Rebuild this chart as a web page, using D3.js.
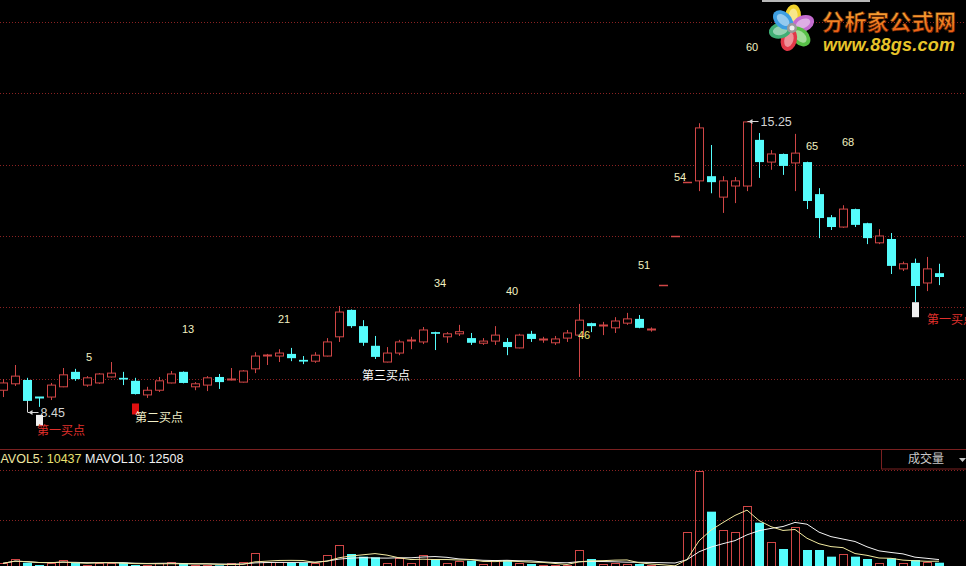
<!DOCTYPE html>
<html><head><meta charset="utf-8">
<script src="https://cdn.jsdelivr.net/npm/d3@7"></script>
<style>html,body{margin:0;padding:0;background:#000;overflow:hidden}</style>
</head><body><svg id="c" width="966" height="566"></svg>
<script>
// ---------- data ----------
const open = [8.96,9.11,9.20,8.79,8.80,9.04,9.39,9.08,9.13,9.27, 9.25,9.18,8.85,8.96,9.13,9.39,9.04,9.08,9.27,9.20,
  9.15,9.46,9.77,9.76,9.81,9.67,9.64,9.76,10.21,10.84, 10.46,10.00,9.62,9.83,10.11,10.09,10.32,10.21,10.28,10.18,
  10.06,10.11,10.09,9.95,10.28,10.13,10.07,10.18,10.25,10.53, 10.46,10.42,10.53,10.63,10.38,11.43,12.57,13.83,13.86,13.97,
  13.48,13.74,13.74,14.82,14.30,14.49,14.28,14.30,13.55,13.01, 12.78,13.20,12.87,12.41,12.50,11.80,11.94,11.47,11.70];
const high = [9.22,9.55,9.25,8.79,9.13,9.48,9.46,9.29,9.36,9.62, 9.39,9.25,9.04,9.27,9.41,9.40,9.15,9.29,9.34,9.48,
  9.43,9.85,9.81,9.92,9.95,9.76,9.85,10.18,10.93,10.85, 10.60,10.23,9.97,10.14,10.21,10.44,10.33,10.32,10.49,10.30,
  10.18,10.46,10.18,10.28,10.35,10.21,10.23,10.37,10.98,10.54, 10.56,10.67,10.77,10.72,10.43,11.43,12.57,13.83,15.21,14.70,
  13.97,13.95,15.25,14.98,14.58,14.50,14.96,14.31,13.69,13.06, 13.29,13.21,12.88,12.73,12.64,11.97,12.04,12.08,11.92];
const low = [8.80,9.06,8.45,8.57,8.73,9.03,9.18,9.04,9.11,9.26, 9.08,8.86,8.78,8.92,9.12,9.12,8.96,8.94,8.99,9.19,
  9.14,9.36,9.55,9.62,9.64,9.57,9.60,9.75,10.09,10.42, 10.00,9.69,9.61,9.78,9.92,10.04,9.90,10.07,10.23,10.02,
  10.02,10.02,9.78,9.94,10.09,10.07,10.02,10.09,9.27,10.32, 10.25,10.30,10.49,10.41,10.33,11.43,12.57,13.83,13.62,13.57,
  13.11,13.34,13.62,13.93,14.12,14.00,13.62,13.20,12.52,12.71, 12.76,12.78,12.38,12.38,11.68,11.75,11.02,11.28,11.42];
const close = [9.13,9.29,8.71,8.78,9.08,9.32,9.22,9.25,9.34,9.36, 9.21,8.87,8.96,9.18,9.34,9.13,9.11,9.25,9.15,9.22,
  9.41,9.76,9.78,9.83,9.71,9.63,9.78,10.09,10.79,10.46, 10.07,9.74,9.83,10.09,10.14,10.37,10.28,10.28,10.33,10.07,
  10.11,10.25,9.97,10.25,10.16,10.15,10.16,10.30,10.60,10.46, 10.49,10.58,10.63,10.42,10.39,11.43,12.57,13.83,15.10,13.83,
  13.86,13.86,15.24,14.30,14.49,14.21,14.51,13.39,12.99,12.78, 13.20,12.83,12.52,12.57,11.87,11.92,11.40,11.80,11.61];
const volume = [8040,13200,8760,6000,8040,12000,8400,6000,8760,8760, 8760,6000,5640,8040,9240,8040,5640,5640,5640,8040,
  9600,20000,9600,9960,8760,8760,8040,18000,30000,19200, 16000,15200,8760,14000,8760,18000,13200,8760,11200,11200,
  7200,12000,12000,8400,7200,6000,5640,6000,24000,13200, 7200,8760,7200,7200,5640,2400,2400,45200,119200,70000,
  48000,45200,76800,56800,33200,25200,51200,24000,24000,16000, 18800,16000,13200,8040,14000,8040,12000,9960,8760];
const countLabels = [5,13,21,34,40,46,51,54,60,65,68];
const countLabelPrice = [9.71,10.37,10.60,11.45,11.26,10.23,11.87,13.93,16.97,14.65,14.75];
const countStartIndex = 2;
const gridPrices = [9.22,10.90,12.57,14.24,15.92,17.59];
const volGrid = [60000,120000];
const buyIndex = [3,11,32,76];
const buyText = ["第一买点","第二买点","第三买点","第一买点"];
const mavol5 = 10437, mavol10 = 12508;

// ---------- layout ----------
const W = 966, H = 566;
const svg = d3.select("#c");
svg.append("rect").attr("width",W).attr("height",H).attr("fill","#000");
const n = open.length;
const x = d3.scaleLinear().domain([0, n-1]).range([3, 939]);
const yP = d3.scaleLinear().domain([7.584, 18.094]).range([449, 0]);
const yV = d3.scaleLinear().domain([0, 120000]).range([570, 470]);
const RED = "#d04646", CYAN = "#55fcfc", GRID = "#8a2222";
const FONT = "'Liberation Sans', Arial, sans-serif";
const CJK = "'Noto Sans CJK SC', sans-serif";

// grid
svg.append("g").selectAll("line").data(gridPrices).join("line")
  .attr("x1",0).attr("x2",W).attr("y1",d=>Math.round(yP(d))+0.5).attr("y2",d=>Math.round(yP(d))+0.5)
  .attr("stroke",GRID).attr("stroke-dasharray","1,2");
svg.append("g").selectAll("line").data(volGrid).join("line")
  .attr("x1",0).attr("x2",W).attr("y1",d=>Math.round(yV(d))+0.5).attr("y2",d=>Math.round(yV(d))+0.5)
  .attr("stroke",GRID).attr("stroke-dasharray","1,2");
// separator
svg.append("line").attr("x1",0).attr("x2",W).attr("y1",449.5).attr("y2",449.5).attr("stroke","#7a2020");

// candles
const idx = d3.range(n);
const cg = svg.append("g");
idx.forEach(i=>{
  const cx = Math.round(x(i));
  const up = close[i] >= open[i];
  const col = up ? RED : CYAN;
  const yo = yP(open[i]), yc = yP(close[i]);
  const top = Math.min(yo,yc), bot = Math.max(yo,yc);
  cg.append("line").attr("x1",cx+0.5).attr("x2",cx+0.5).attr("y1",yP(high[i])).attr("y2",yP(low[i])).attr("stroke",col);
  if (bot - top < 1.5) {
    cg.append("line").attr("x1",cx-4).attr("x2",cx+5).attr("y1",Math.round(top)+0.5).attr("y2",Math.round(top)+0.5)
      .attr("stroke",col).attr("stroke-width",up && open[i]===high[i] && open[i]===low[i] ? 1.5 : 2);
  } else if (up) {
    cg.append("rect").attr("x",cx-3.5).attr("y",top).attr("width",8).attr("height",bot-top)
      .attr("fill","#000").attr("stroke",col);
  } else {
    cg.append("rect").attr("x",cx-4).attr("y",top).attr("width",9).attr("height",bot-top).attr("fill",col);
  }
});

// volume bars
const vg = svg.append("g");
idx.forEach(i=>{
  const cx = Math.round(x(i));
  const up = close[i] >= open[i];
  const t = yV(volume[i]);
  if (up) vg.append("rect").attr("x",cx-3.5).attr("y",Math.round(t)+0.5).attr("width",8).attr("height",600).attr("fill","none").attr("stroke",RED);
  else vg.append("rect").attr("x",cx-4).attr("y",t).attr("width",9).attr("height",600).attr("fill",CYAN);
});
// MA lines
function ma(k){ return idx.map(i=>d3.mean(volume.slice(Math.max(0,i-k+1), i+1))); }
const line = d3.line().x((d,i)=>x(i)).y(d=>yV(d)).curve(d3.curveLinear);
svg.append("path").attr("d",line(ma(10))).attr("fill","none").attr("stroke","#f4f4f4").attr("stroke-width",1);
svg.append("path").attr("d",line(ma(5))).attr("fill","none").attr("stroke","#f2eaa0").attr("stroke-width",1);

// count labels
svg.append("g").selectAll("text").data(countLabels).join("text")
  .attr("x",(d)=>Math.round(x(d+countStartIndex))-1).attr("y",(d,i)=>yP(countLabelPrice[i]))
  .attr("dominant-baseline","middle").attr("font-family",FONT).attr("font-size",11)
  .attr("fill",d=>d===46?"#ece27a":"#f2f0c0").text(d=>d);

// min / max markers
function arrowMark(i, val){
  const cx = Math.round(x(i))+0.5, y = Math.round(yP(val))+0.5;
  const g = svg.append("g");
  g.append("line").attr("x1",cx).attr("x2",cx+11).attr("y1",y).attr("y2",y).attr("stroke","#d8d8d8");
  g.append("path").attr("d",`M${cx+1},${y} l4,-2.5 l0,5 z`).attr("fill","#d8d8d8");
  g.append("text").attr("x",cx+13).attr("y",y+1).attr("dominant-baseline","middle")
    .attr("font-family",FONT).attr("font-size",12.5).attr("fill","#d4d4d4").text(val.toFixed(2));
}
const iMin = d3.minIndex(low), iMax = d3.maxIndex(high);
arrowMark(iMin, low[iMin]);
arrowMark(iMax, high[iMax]);
svg.append("line").attr("x1",Math.round(x(iMin))+0.5).attr("x2",Math.round(x(iMin))+0.5)
  .attr("y1",yP(Math.min(open[iMin],close[iMin]))).attr("y2",yP(low[iMin])).attr("stroke","#d8d8d8");

// buy points
const buyStyle = [
  {block:"#f0f0f0", bdy:8, bh:11, text:"#e0302c", tdx:-2, tdy:25},
  {block:"#e01010", bdy:9, bh:11, text:"#f2f0c8", tdx:0, tdy:24},
  {block:null, bdy:0, bh:0, text:"#ffffff", tdx:-25, tdy:14},
  {block:"#f0f0f0", bdy:0, bh:15, text:"#e0302c", tdx:12, tdy:19}
];
buyIndex.forEach((bi,k)=>{
  const s = buyStyle[k];
  const cx = Math.round(x(bi));
  const yl = yP(low[bi]);
  if (s.block) svg.append("rect").attr("x",cx-3).attr("y",yl+s.bdy).attr("width",7).attr("height",s.bh).attr("fill",s.block);
  svg.append("text").attr("x",cx+s.tdx).attr("y",yl+s.tdy).attr("dominant-baseline","middle")
    .attr("font-family",CJK).attr("font-size",12).attr("fill",s.text).text(buyText[k]);
});

// volume header
const vt = svg.append("text").attr("x",-10).attr("y",460).attr("dominant-baseline","middle")
  .attr("font-family",FONT).attr("font-size",12.5);
vt.append("tspan").attr("fill","#f0e8a0").text("MAVOL5: ");
vt.append("tspan").attr("fill","#e8e070").text(mavol5);
vt.append("tspan").attr("fill","#f0f0f0").text(" MAVOL10: "+mavol10);
svg.append("rect").attr("x",881.5).attr("y",449.5).attr("width",90).attr("height",19.5).attr("fill","#000").attr("stroke","#7a2020");
svg.append("text").attr("x",908).attr("y",460).attr("dominant-baseline","middle").attr("font-family",CJK)
  .attr("font-size",12).attr("fill","#c8c8c8").text("成交量");
svg.append("path").attr("d","M959,458 l7,0 l-3.5,4 z").attr("fill","#c8c8c8");

// top strip & logo
svg.append("rect").attr("x",762).attr("y",0).attr("width",108).attr("height",2).attr("fill","#b8b8b8");
const logo = svg.append("g").attr("transform","translate(792,28)");
const petals = [["#f2d22a",5],["#c46cd0",68],["#58c048",135],["#e23848",195],["#3fae74",258],["#3d9ee2",312]];
petals.forEach(([c,a])=>{
  logo.append("ellipse").attr("cx",0).attr("cy",-12).attr("rx",8).attr("ry",11.5)
    .attr("transform",`rotate(${a})`).attr("fill",c);
  logo.append("ellipse").attr("cx",0).attr("cy",-12).attr("rx",4.5).attr("ry",7.5)
    .attr("transform",`rotate(${a})`).attr("fill","#fff").attr("opacity",0.45);
});
logo.append("circle").attr("r",5).attr("fill","#9a9a9a");
logo.append("circle").attr("r",2.5).attr("fill","#eee");
const grad = svg.append("defs").append("linearGradient").attr("id","og").attr("x1",0).attr("y1",0).attr("x2",0).attr("y2",1);
grad.append("stop").attr("offset","0%").attr("stop-color","#ffc040");
grad.append("stop").attr("offset","100%").attr("stop-color","#e85010");
svg.append("text").attr("x",822).attr("y",30).attr("font-family",CJK).attr("font-weight","bold").attr("font-size",22)
  .attr("textLength",134).attr("fill","url(#og)").attr("stroke","#5a2000").attr("stroke-width",0.6).text("分析家公式网");
svg.append("text").attr("x",823).attr("y",51).attr("font-family",FONT).attr("font-weight","bold").attr("font-style","italic")
  .attr("font-size",18).attr("textLength",132).attr("fill","#e8c42a").text("www.88gs.com");
</script></body></html>
